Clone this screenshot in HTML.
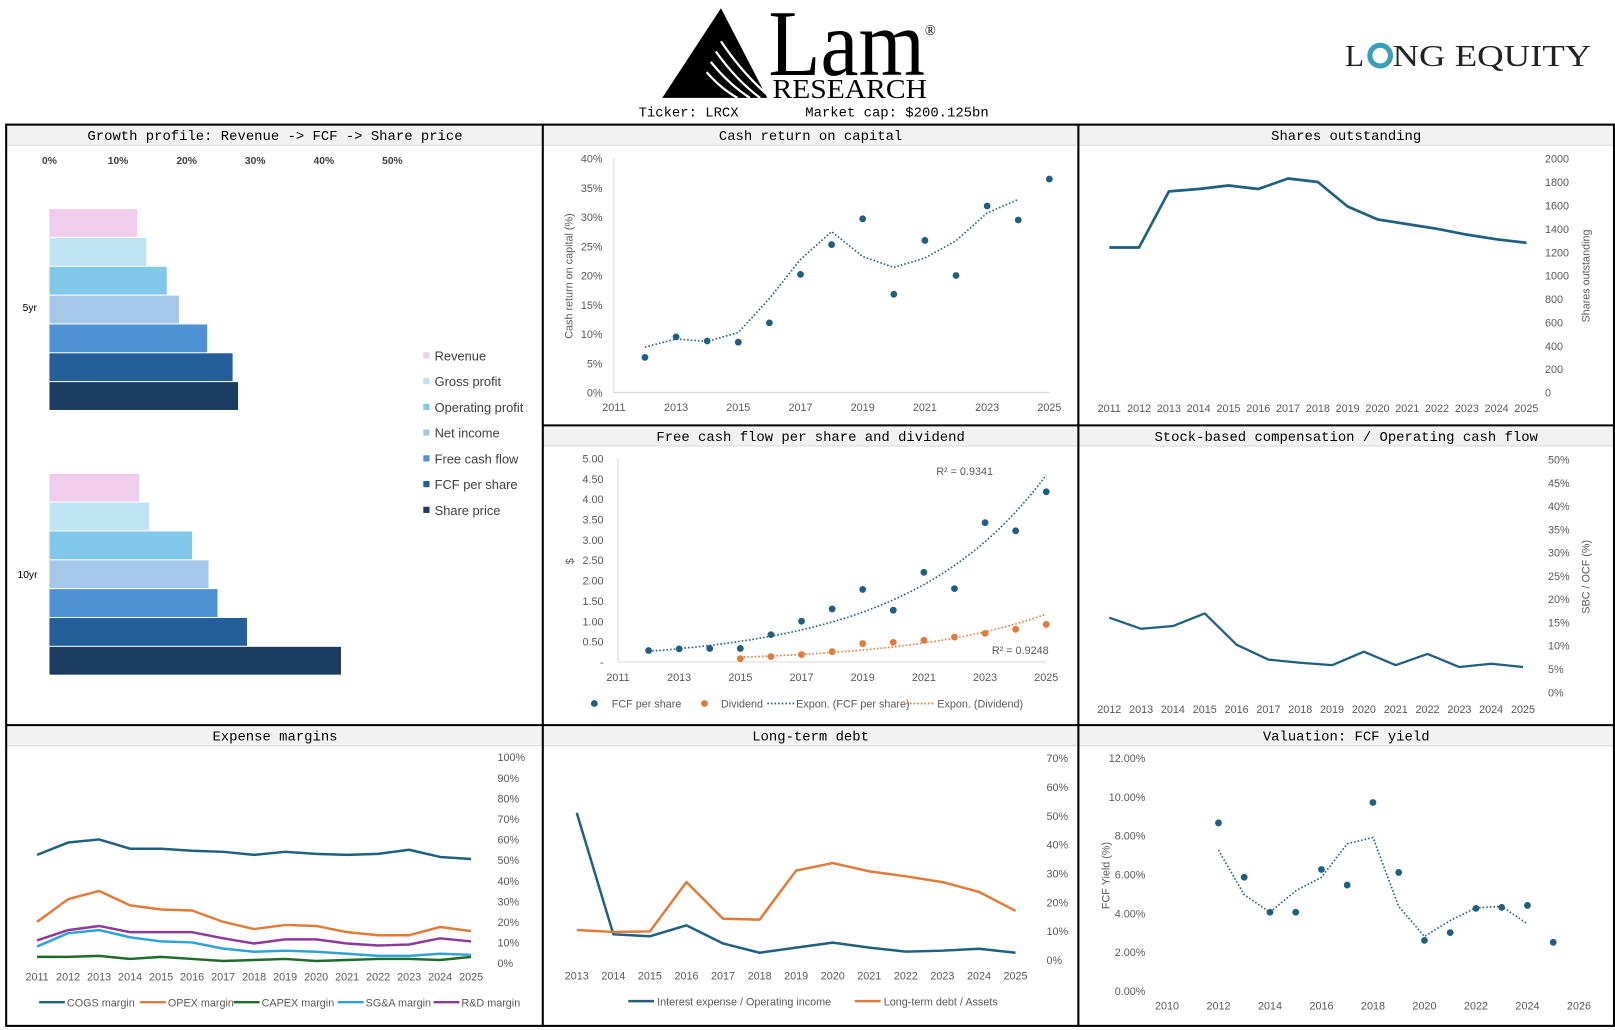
<!DOCTYPE html>
<html><head><meta charset="utf-8"><style>
html,body{margin:0;padding:0;background:#fff;}
svg{display:block;}
text{font-family:"Liberation Sans",sans-serif;}
text.mono{font-family:"Liberation Mono",monospace;}
text.serif{font-family:"Liberation Serif",serif;}
.tick{font-size:10.5px;fill:#595959;}
</style></head><body>
<svg id="chart" width="1615" height="1030" viewBox="0 0 1568 1000" preserveAspectRatio="none" xmlns="http://www.w3.org/2000/svg">
<g>
<polygon points="643,95 700,8 745,95" fill="#000"/>
<g stroke="#fff" stroke-width="2.2" fill="none">
<path d="M700,40 Q720,70 745,92"/><path d="M695,50 Q715,78 738,95"/><path d="M690,60 Q708,82 728,95"/><path d="M686,70 Q700,86 716,95"/>
</g>
<text class="serif" x="746" y="73" font-size="92" textLength="152" lengthAdjust="spacingAndGlyphs">Lam</text>
<text class="serif" x="898" y="34" font-size="14">®</text>
<text class="serif" x="750" y="95" font-size="27" textLength="150" lengthAdjust="spacingAndGlyphs">RESEARCH</text>
</g>
<text class="mono" x="620" y="113" font-size="13.5" xml:space="preserve">Ticker: LRCX        Market cap: $200.125bn</text>
<g>
<text class="serif" x="1306" y="64" font-size="30" fill="#222">L</text>
<circle cx="1340" cy="54" r="10" fill="none" stroke="#3a9fb8" stroke-width="5"/>
<text class="serif" x="1352" y="64" font-size="30" fill="#222" textLength="193" lengthAdjust="spacingAndGlyphs">NG EQUITY</text>
</g>
<g>
<rect x="7" y="122" width="1560" height="19" fill="#f2f2f2"/>
<rect x="527" y="414" width="1040" height="19" fill="#f2f2f2"/>
<rect x="7" y="705" width="1560" height="19" fill="#f2f2f2"/>
<line x1="7" y1="141" x2="1567" y2="141" stroke="#d9d9d9"/>
<line x1="527" y1="433" x2="1567" y2="433" stroke="#d9d9d9"/>
<line x1="7" y1="724" x2="1567" y2="724" stroke="#d9d9d9"/>
<rect x="6" y="121" width="1561" height="875" fill="none" stroke="#000" stroke-width="2"/>
<line x1="527" y1="121" x2="527" y2="996" stroke="#000" stroke-width="2"/>
<line x1="1047" y1="121" x2="1047" y2="996" stroke="#000" stroke-width="2"/>
<line x1="527" y1="413" x2="1567" y2="413" stroke="#000" stroke-width="2"/>
<line x1="6" y1="704" x2="1567" y2="704" stroke="#000" stroke-width="2"/>
</g>
<g font-size="13.5" text-anchor="middle">
<text class="mono" x="267" y="136">Growth profile: Revenue -&gt; FCF -&gt; Share price</text>
<text class="mono" x="787" y="136">Cash return on capital</text>
<text class="mono" x="1307" y="136">Shares outstanding</text>
<text class="mono" x="787" y="428">Free cash flow per share and dividend</text>
<text class="mono" x="1307" y="428">Stock-based compensation / Operating cash flow</text>
<text class="mono" x="267" y="719">Expense margins</text>
<text class="mono" x="787" y="719">Long-term debt</text>
<text class="mono" x="1307" y="719">Valuation: FCF yield</text>
</g>
</svg>
<script>
// ---------- data ----------
const growthSeries = ["Revenue","Gross profit","Operating profit","Net income","Free cash flow","FCF per share","Share price"];
const growth5yr = [12.8,14.1,17.1,18.9,23.0,26.7,27.5];
const growth10yr = [13.1,14.5,20.8,23.2,24.5,28.8,42.5];
const growthTicks = [0,10,20,30,40,50];

const crocYears = [2012,2013,2014,2015,2016,2017,2018,2019,2020,2021,2022,2023,2024,2025];
const crocValues = [6,9.5,8.8,8.6,11.9,20.2,25.3,29.7,16.8,26,20,31.9,29.5,36.5];

const shareYears = [2011,2012,2013,2014,2015,2016,2017,2018,2019,2020,2021,2022,2023,2024,2025];
const shareValues = [1240,1240,1720,1740,1770,1740,1830,1800,1590,1480,1440,1400,1350,1310,1280];

const fcfYears = [2012,2013,2014,2015,2016,2017,2018,2019,2020,2021,2022,2023,2024,2025];
const fcfValues = [0.28,0.32,0.33,0.33,0.67,1.0,1.30,1.78,1.27,2.2,1.8,3.42,3.22,4.18];
const divYears = [2015,2016,2017,2018,2019,2020,2021,2022,2023,2024,2025];
const divValues = [0.08,0.13,0.18,0.25,0.45,0.48,0.53,0.61,0.70,0.80,0.92];

const sbcYears = [2012,2013,2014,2015,2016,2017,2018,2019,2020,2021,2022,2023,2024,2025];
const sbcValues = [16,13.6,14.2,16.9,10.2,7,6.3,5.8,8.7,5.8,8.2,5.4,6.1,5.4];

const expYears = [2011,2012,2013,2014,2015,2016,2017,2018,2019,2020,2021,2022,2023,2024,2025];
const expNames = ["COGS margin","OPEX margin","CAPEX margin","SG&A margin","R&D margin"];
const cogsMargin = [52.5,58.5,60,55.5,55.5,54.5,54,52.5,54,53,52.5,53,55,51.5,50.5];
const opexMargin = [20,31,35,28,26,25.5,20,16.5,18.5,18,15,13.5,13.5,17.5,15.5];
const capexMargin = [3,3,3.5,2,3,2,1,1.5,2,1,1.5,2,2,1.5,3];
const sgaMargin = [8,14.5,16,12.5,10.5,10,7,5.5,6,5.5,4.5,3.5,3.5,4.5,4];
const rndMargin = [11,16,18,15,15,15,12,9.5,11.5,11.5,9.5,8.5,9,12,10.5];

const ltdYears = [2013,2014,2015,2016,2017,2018,2019,2020,2021,2022,2023,2024,2025];
const interestRatio = [51,8.9,8.2,12,5.7,2.5,4.3,6,4.3,2.9,3.2,3.9,2.5];
const debtAssets = [10.4,9.7,9.9,27,14.3,14,31,33.6,30.7,29,27,23.6,17];

const yieldYears = [2012,2013,2014,2015,2016,2017,2018,2019,2020,2021,2022,2023,2024,2025];
const yieldValues = [8.65,5.85,4.05,4.05,6.25,5.45,9.7,6.1,2.6,3.0,4.25,4.3,4.4,2.5];

// ---------- helpers ----------
const svg = document.getElementById('chart');
const NS = 'http://www.w3.org/2000/svg';
function mk(parent, tag, attrs, txt){
  const e = document.createElementNS(NS, tag);
  for (const k in attrs) e.setAttribute(k, attrs[k]);
  if (txt !== undefined) e.textContent = txt;
  parent.appendChild(e);
  return e;
}
function pathD(xs, ys){ return xs.map((x,i)=>(i?'L':'M')+x.toFixed(1)+','+ys[i].toFixed(1)).join(''); }
function movAvg(v){ const r=[]; for(let i=0;i<v.length-1;i++) r.push((v[i]+v[i+1])/2); return r; }
const BLUE = '#1f5f7f', ORANGE = '#e07b39';

// ---------- growth ----------
(function(){
  const g = mk(svg,'g',{});
  
  
  const x = v => 48 + v*6.66;
  const colors = ['#f0cced','#bfe3f2','#82c8ea','#a6c8e8','#4e92d4','#245f99','#1b3c5e'];
  growthTicks.forEach(t=>{
    const e = mk(g,'text',{x:x(t),y:159,'text-anchor':'middle','font-size':10,'font-weight':'bold',fill:'#404040'},t+'%');
    
    
  });
  [[growth5yr,203,'5yr',22,302],[growth10yr,460,'10yr',17,561]].forEach(([vals,y0,lab,lx,ly])=>{
    vals.forEach((v,i)=>{
      const r = mk(g,'rect',{x:x(0),y:y0+i*28,width:x(v)-x(0),height:27,fill:colors[i]});
      
      
    });
    const t = mk(g,'text',{x:lx,y:ly,'font-size':10,fill:'#000'},lab);
    
    
  });
  growthSeries.forEach((s,i)=>{
    const r = mk(g,'rect',{x:411,y:342+i*25,width:6,height:6,fill:colors[i]});
    
    
    const t = mk(g,'text',{x:422,y:350+i*25,'font-size':12.5,fill:'#404040'},s);
    
    
  });
})();

// ---------- CROC ----------
(function(){
  const g = mk(svg,'g',{});
  
  
  const x = yr => 596 + (yr-2011)*30.2, y = v => 381 - v*5.675;
  mk(g,'path',{d:'M596,154V381H1019',stroke:'#d9d9d9',fill:'none'});
  for(let t=0;t<=40;t+=5){
    const e = mk(g,'text',{x:585,y:y(t)+4,'text-anchor':'end',class:'tick'},t+'%');
    
    
  }
  for(let yr=2011;yr<=2025;yr+=2){
    const e = mk(g,'text',{x:x(yr),y:399,'text-anchor':'middle',class:'tick'},yr);
    
    
  }
  const at = mk(g,'text',{transform:'translate(556,268) rotate(-90)','text-anchor':'middle',class:'tick'},'Cash return on capital (%)');
  
  
  const ma = movAvg(crocValues);
  const tl = mk(g,'path',{d:pathD(crocYears.slice(0,-1).map(x),ma.map(y)),stroke:BLUE,'stroke-width':1.6,'stroke-dasharray':'1.5,2',fill:'none'});
  
  
  crocValues.forEach((v,i)=>{
    const c = mk(g,'circle',{cx:x(crocYears[i]),cy:y(v),r:3.3,fill:BLUE});
    
    
  });
})();

// ---------- shares ----------
(function(){
  const g = mk(svg,'g',{});
  
  
  const x = yr => 1077 + (yr-2011)*28.93, y = v => 381 - v*0.1135;
  for(let t=0;t<=2000;t+=200){
    const e = mk(g,'text',{x:1500,y:y(t)+4,class:'tick'},t);
    
    
  }
  shareYears.forEach(yr=>{
    const e = mk(g,'text',{x:x(yr),y:400,'text-anchor':'middle',class:'tick'},yr);
    
    
  });
  const at = mk(g,'text',{transform:'translate(1543,268) rotate(-90)','text-anchor':'middle',class:'tick'},'Shares outstanding');
  
  
  const p = mk(g,'path',{d:pathD(shareYears.map(x),shareValues.map(y)),stroke:BLUE,'stroke-width':2.6,fill:'none','stroke-linejoin':'round'});
  
  
})();

// ---------- FCF ----------
(function(){
  const g = mk(svg,'g',{});
  
  
  const x = yr => 600 + (yr-2011)*29.7, y = v => 642.6 - v*39.52;
  mk(g,'path',{d:'M600,445V642.6H1016',stroke:'#d9d9d9',fill:'none'});
  for(let t=0;t<=5;t+=0.5){
    const e = mk(g,'text',{x:586,y:y(t)+4,'text-anchor':'end',class:'tick'},t===0?'-':t.toFixed(2));
    
    
  }
  for(let yr=2011;yr<=2025;yr+=2){
    const e = mk(g,'text',{x:x(yr),y:661,'text-anchor':'middle',class:'tick'},yr);
    
    
  }
  const at = mk(g,'text',{transform:'translate(557,545) rotate(-90)','text-anchor':'middle',class:'tick'},'$');
  
  
  function expFit(xs, vs){
    const n=xs.length; let sx=0,sy=0,sxx=0,sxy=0;
    xs.forEach((xx,i)=>{const l=Math.log(vs[i]); sx+=xx; sy+=l; sxx+=xx*xx; sxy+=xx*l;});
    const b=(n*sxy-sx*sy)/(n*sxx-sx*sx), a=(sy-b*sx)/n;
    return xx=>Math.exp(a+b*xx);
  }
  [[fcfYears,fcfValues,BLUE,'fcf'],[divYears,divValues,ORANGE,'dividend']].forEach(([ys,vs,col,nm])=>{
    const f = expFit(ys,vs); const px=[],py=[];
    for(let t=ys[0];t<=ys[ys.length-1]+0.001;t+=0.25){px.push(x(t));py.push(y(f(t)));}
    const tl = mk(g,'path',{d:pathD(px,py),stroke:col,'stroke-width':1.6,'stroke-dasharray':'1.5,2',fill:'none'});
    
    
    vs.forEach((v,i)=>{
      const c = mk(g,'circle',{cx:x(ys[i]),cy:y(v),r:3.3,fill:col});
      
      
    });
  });
  const r1 = mk(g,'text',{x:909,y:461,class:'tick'},'R² = 0.9341');
  
  
  const r2 = mk(g,'text',{x:963,y:635,class:'tick'},'R² = 0.9248');
  
  
  const leg = [[577,'dot',BLUE,'FCF per share',594],[684,'dot',ORANGE,'Dividend',700],[745,'dash',BLUE,'Expon. (FCF per share)',773],[880,'dash',ORANGE,'Expon. (Dividend)',910]];
  leg.forEach(([lx,kind,col,label,tx])=>{
    if(kind==='dot'){ const c=mk(g,'circle',{cx:lx,cy:683,r:3.3,fill:col});   }
    else { const l=mk(g,'line',{x1:lx,y1:683,x2:lx+26,y2:683,stroke:col,'stroke-width':1.6,'stroke-dasharray':'1.5,2'});   }
    const t = mk(g,'text',{x:tx,y:687,class:'tick'},label);
    
    
  });
})();

// ---------- SBC ----------
(function(){
  const g = mk(svg,'g',{});
  
  
  const x = yr => 1077 + (yr-2012)*30.9, y = v => 672 - v*4.52;
  for(let t=0;t<=50;t+=5){
    const e = mk(g,'text',{x:1503,y:y(t)+4,class:'tick'},t+'%');
    
    
  }
  sbcYears.forEach(yr=>{
    const e = mk(g,'text',{x:x(yr),y:692,'text-anchor':'middle',class:'tick'},yr);
    
    
  });
  const at = mk(g,'text',{transform:'translate(1543,560) rotate(-90)','text-anchor':'middle',class:'tick'},'SBC / OCF (%)');
  
  
  const p = mk(g,'path',{d:pathD(sbcYears.map(x),sbcValues.map(y)),stroke:BLUE,'stroke-width':2.2,fill:'none','stroke-linejoin':'round'});
  
  
})();

// ---------- Expense margins ----------
(function(){
  const g = mk(svg,'g',{});
  
  
  const x = yr => 36 + (yr-2011)*30.1, y = v => 935 - v*2;
  for(let t=0;t<=100;t+=10){
    const e = mk(g,'text',{x:483,y:y(t)+4,class:'tick'},t+'%');
    
    
  }
  expYears.forEach(yr=>{
    const e = mk(g,'text',{x:x(yr),y:952,'text-anchor':'middle',class:'tick'},yr);
    
    
  });
  const series = [cogsMargin,opexMargin,capexMargin,sgaMargin,rndMargin];
  const cols = [BLUE,ORANGE,'#1f6b2a','#2ea3d6','#8e3a9a'];
  [2,3,4,1,0].forEach(i=>{
    const p = mk(g,'path',{d:pathD(expYears.map(x),series[i].map(y)),stroke:cols[i],'stroke-width':2.4,fill:'none','stroke-linejoin':'round'});
    
    
  });
  const lx = [38,136,227,328,421];
  expNames.forEach((n,i)=>{
    const l = mk(g,'line',{x1:lx[i],y1:973,x2:lx[i]+25,y2:973,stroke:cols[i],'stroke-width':2.4});
    
    
    const t = mk(g,'text',{x:lx[i]+27,y:977,class:'tick'},n);
    
    
  });
})();

// ---------- Long-term debt ----------
(function(){
  const g = mk(svg,'g',{});
  
  
  const x = yr => 560 + (yr-2013)*35.5, y = v => 932 - v*2.8;
  for(let t=0;t<=70;t+=10){
    const e = mk(g,'text',{x:1016,y:y(t)+4,class:'tick'},t+'%');
    
    
  }
  ltdYears.forEach(yr=>{
    const e = mk(g,'text',{x:x(yr),y:951,'text-anchor':'middle',class:'tick'},yr);
    
    
  });
  const p1 = mk(g,'path',{d:pathD(ltdYears.map(x),interestRatio.map(y)),stroke:BLUE,'stroke-width':2.4,fill:'none','stroke-linejoin':'round'});
  
  
  const p2 = mk(g,'path',{d:pathD(ltdYears.map(x),debtAssets.map(y)),stroke:ORANGE,'stroke-width':2.4,fill:'none','stroke-linejoin':'round'});
  
  
  [[610,BLUE,'Interest expense / Operating income'],[830,ORANGE,'Long-term debt / Assets']].forEach(([lx,c,n])=>{
    const l = mk(g,'line',{x1:lx,y1:972,x2:lx+25,y2:972,stroke:c,'stroke-width':2.4});
    
    
    const t = mk(g,'text',{x:lx+28,y:976,class:'tick'},n);
    
    
  });
})();

// ---------- Valuation ----------
(function(){
  const g = mk(svg,'g',{});
  
  
  const x = yr => 1133 + (yr-2010)*25, y = v => 962 - v*18.85;
  for(let t=0;t<=12;t+=2){
    const e = mk(g,'text',{x:1112,y:y(t)+4,'text-anchor':'end',class:'tick'},t.toFixed(2)+'%');
    
    
  }
  for(let yr=2010;yr<=2026;yr+=2){
    const e = mk(g,'text',{x:x(yr),y:980,'text-anchor':'middle',class:'tick'},yr);
    
    
  }
  const at = mk(g,'text',{transform:'translate(1077,850) rotate(-90)','text-anchor':'middle',class:'tick'},'FCF Yield (%)');
  
  
  const ma = movAvg(yieldValues);
  const tl = mk(g,'path',{d:pathD(yieldYears.slice(0,-1).map(x),ma.map(y)),stroke:BLUE,'stroke-width':1.6,'stroke-dasharray':'1.5,2',fill:'none'});
  
  
  yieldValues.forEach((v,i)=>{
    const c = mk(g,'circle',{cx:x(yieldYears[i]),cy:y(v),r:3.3,fill:BLUE});
    
    
  });
})();
</script>
</body></html>
